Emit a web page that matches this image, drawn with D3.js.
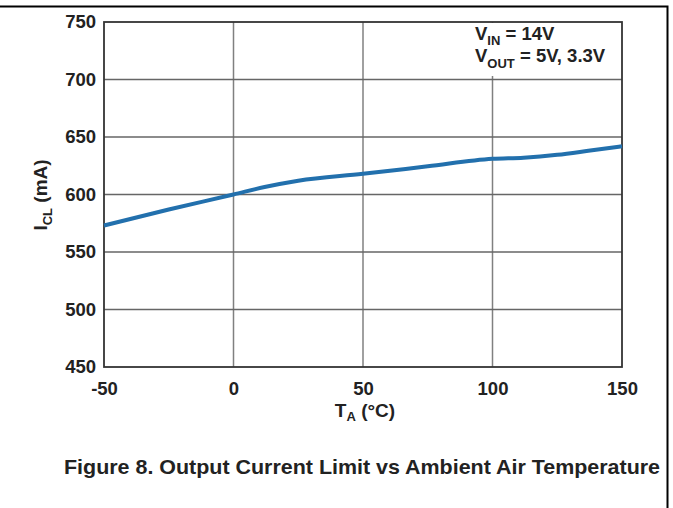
<!DOCTYPE html>
<html>
<head>
<title>Output Current Limit vs Ambient Air Temperature</title>
<script src="https://d3js.org/d3.v7.min.js"></script>
<style>
  body { margin: 0; background: #fff; }
  text { font-family: "Liberation Sans", Arial, sans-serif; font-weight: bold; fill: #222; }
</style>
</head>
<body>
<div id="chart"></div>
<script>
// data
const temps = [-50, -25, 0, 12, 25, 50, 75, 100, 112, 125, 137, 150];
const currents = [573, 587, 600, 606.5, 612, 618, 624.5, 631, 632, 634.5, 638, 642];
const xTicks = [-50, 0, 50, 100, 150];
const yTicks = [450, 500, 550, 600, 650, 700, 750];

const W = 673, H = 508;
const margin = { top: 22, right: 51, bottom: 141, left: 104 };
const width = W - margin.left - margin.right;
const height = H - margin.top - margin.bottom;

const svg = d3.select("#chart").append("svg")
    .attr("width", W)
    .attr("height", H);

// page frame (top + right rules)
svg.append("path")
    .attr("d", "M0,6.5H667.5V508")
    .attr("fill", "none")
    .attr("stroke", "#000")
    .attr("stroke-width", 2);

const g = svg.append("g")
    .attr("transform", `translate(${margin.left},${margin.top})`);

const x = d3.scaleLinear().domain([-50, 150]).range([0, width]);
const y = d3.scaleLinear().domain([450, 750]).range([height, 0]);

// grid
g.append("g").selectAll("line").data(xTicks.slice(1, -1)).join("line")
    .attr("x1", d => x(d)).attr("x2", d => x(d))
    .attr("y1", 0).attr("y2", height)
    .attr("stroke", "#808080").attr("stroke-width", 1.5);
g.append("g").selectAll("line").data(yTicks.slice(1, -1)).join("line")
    .attr("x1", 0).attr("x2", width)
    .attr("y1", d => y(d)).attr("y2", d => y(d))
    .attr("stroke", "#666").attr("stroke-width", 1.5);

// axes labels (plain hyphen for negatives, like the original)
const fmt = d => String(d);
const xAxis = g.append("g")
    .attr("transform", `translate(0,${height})`)
    .call(d3.axisBottom(x).tickValues(xTicks).tickSize(0).tickPadding(15).tickFormat(fmt));
xAxis.select(".domain").remove();
xAxis.selectAll("text").attr("font-size", 18.5).attr("fill", "#222");

const yAxis = g.append("g")
    .call(d3.axisLeft(y).tickValues(yTicks).tickSize(0).tickPadding(8).tickFormat(fmt));
yAxis.select(".domain").remove();
yAxis.selectAll("text").attr("font-size", 18.5).attr("fill", "#222");

// annotation box
const note = g.append("g");
note.append("rect")
    .attr("x", x(100) - 48).attr("y", 1)
    .attr("width", width - (x(100) - 48) - 1).attr("height", 53)
    .attr("fill", "#fff");
const t1 = note.append("text").attr("x", 371).attr("y", 18).attr("font-size", 18.5);
t1.append("tspan").text("V");
t1.append("tspan").attr("font-size", 13).attr("dy", 5).text("IN");
t1.append("tspan").attr("dy", -5).text(" = 14V");
const t2 = note.append("text").attr("x", 371).attr("y", 40).attr("font-size", 18.5);
t2.append("tspan").text("V");
t2.append("tspan").attr("font-size", 13).attr("dy", 6).text("OUT");
t2.append("tspan").attr("dy", -6).text(" = 5V, 3.3V");

// frame of plot
g.append("rect")
    .attr("width", width).attr("height", height)
    .attr("fill", "none")
    .attr("stroke", "#333").attr("stroke-width", 1.8);

// curve
const line = d3.line()
    .x((d, i) => x(temps[i]))
    .y(d => y(d))
    .curve(d3.curveMonotoneX);
g.append("path")
    .datum(currents)
    .attr("fill", "none")
    .attr("stroke", "#2270ad")
    .attr("stroke-width", 4)
    .attr("d", line);

// axis titles
const xt = svg.append("text")
    .attr("x", margin.left + x(50) + 2).attr("y", 417)
    .attr("text-anchor", "middle").attr("font-size", 19);
xt.append("tspan").text("T");
xt.append("tspan").attr("font-size", 13).attr("dy", 4).text("A");
xt.append("tspan").attr("dy", -4).text(" (°C)");

const yt = svg.append("text")
    .attr("transform", `translate(47,195) rotate(-90)`)
    .attr("text-anchor", "middle").attr("font-size", 19);
yt.append("tspan").text("I");
yt.append("tspan").attr("font-size", 13).attr("dy", 5).text("CL");
yt.append("tspan").attr("dy", -5).text(" (mA)");

// caption
svg.append("text")
    .attr("x", 64).attr("y", 474)
    .attr("font-size", 20.5)
    .attr("textLength", 596).attr("lengthAdjust", "spacingAndGlyphs")
    .text("Figure 8. Output Current Limit vs Ambient Air Temperature");
</script>
</body>
</html>
